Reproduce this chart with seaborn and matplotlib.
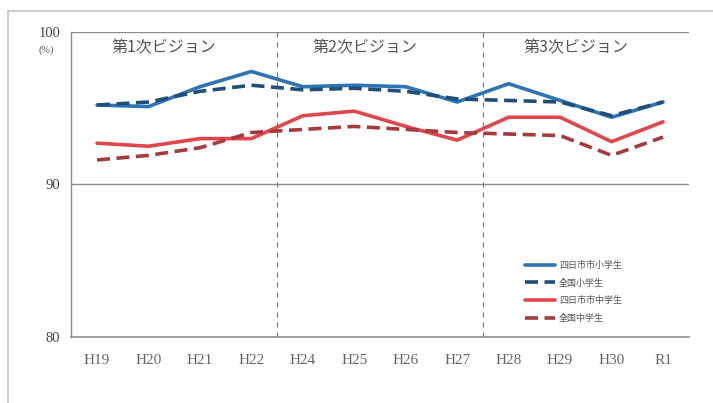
import numpy as np
import pandas as pd
import matplotlib
matplotlib.use("Agg")
import matplotlib.pyplot as plt
from matplotlib.lines import Line2D
import seaborn as sns

sns.set_style("white")
plt.rcParams["font.family"] = ["Noto Sans CJK JP", "DejaVu Sans"]

YEARS = ["H19", "H20", "H21", "H22", "H24", "H25", "H26", "H27", "H28", "H29", "H30", "R1"]
SERIES = ["四日市市小学生", "全国小学生", "四日市市中学生", "全国中学生"]
city_elem  = [95.2, 95.1, 96.4, 97.4, 96.4, 96.5, 96.4, 95.4, 96.6, 95.5, 94.4, 95.4]
nat_elem   = [95.2, 95.4, 96.1, 96.5, 96.2, 96.3, 96.1, 95.6, 95.5, 95.4, 94.5, 95.4]
city_mid   = [92.7, 92.5, 93.0, 93.0, 94.5, 94.8, 93.8, 92.9, 94.4, 94.4, 92.8, 94.1]
nat_mid    = [91.6, 91.9, 92.4, 93.4, 93.6, 93.8, 93.6, 93.4, 93.3, 93.2, 91.9, 93.1]
VISIONS = ["第1次ビジョン", "第2次ビジョン", "第3次ビジョン"]
vision_x = [1.3, 5.2, 9.3]
vision_bounds = [3.5, 7.5]

df = pd.DataFrame({
    "year": YEARS * 4,
    "x": list(range(len(YEARS))) * 4,
    "value": city_elem + nat_elem + city_mid + nat_mid,
    "series": sum([[s] * len(YEARS) for s in SERIES], []),
})

colors = {
    "四日市市小学生": "#2e74b5",
    "全国小学生":     "#1f4e79",
    "四日市市中学生": "#e0474c",
    "全国中学生":     "#a63a3f",
}
dashes = {
    "四日市市小学生": "",
    "全国小学生":     (3.6, 1.8),
    "四日市市中学生": "",
    "全国中学生":     (3.6, 1.8),
}

fig = plt.figure(figsize=(7.13, 4.03), dpi=100)
ax = fig.add_axes([0.1, 0.164, 0.866, 0.757])

# outer frame of the original picture
fig.add_artist(Line2D([0.011, 1.0], [0.972, 0.972], transform=fig.transFigure,
                      color="#cfcfcf", lw=1.5))
fig.add_artist(Line2D([0.011, 0.011], [0.0, 0.972], transform=fig.transFigure,
                      color="#cfcfcf", lw=1.5))

sns.lineplot(data=df, x="x", y="value", hue="series", style="series",
             palette=colors, dashes=dashes, linewidth=2.6, ax=ax, legend=False)

for b in vision_bounds:
    ax.axvline(b, color="#5b7fc8", lw=0.9, ls=(0, (4, 4)), zorder=1)

for yv in [90, 100]:
    ax.axhline(yv, color="#8c8c8c", lw=1.0, zorder=0)

for txt, xv in zip(VISIONS, vision_x):
    ax.text(xv, 98.95, txt, ha="center", va="center", fontsize=11.5, color="#555555")

ax.set_xlim(-0.5, 11.5)
ax.set_ylim(80, 100)
ax.set_xticks(range(len(YEARS)))
ax.set_xticklabels(YEARS, fontsize=11, color="#666666",
                   family=["Liberation Serif"])
ax.set_xticks(np.arange(-0.5, 12, 1), minor=True)
ax.tick_params(axis="x", which="major", length=0, pad=12)
ax.tick_params(axis="x", which="minor", length=4, color="#8c8c8c", direction="in")
ax.set_yticks([80, 90, 100])
ax.set_yticklabels(["80", "90", "100"], fontsize=10.5, color="#444444",
                   family=["Liberation Serif"])
ax.tick_params(axis="y", length=4, color="#8c8c8c", pad=4)
ax.set_xlabel("")
ax.set_ylabel("")
ax.text(-0.04, 0.94, "(%)", transform=ax.transAxes, fontsize=7.5,
        color="#555555", ha="center", va="center", family=["Liberation Serif"])

for side in ["top", "right"]:
    ax.spines[side].set_visible(False)
ax.spines["left"].set_color("#8c8c8c")
ax.spines["bottom"].set_color("#8c8c8c")
ax.spines["left"].set_linewidth(1.0)
ax.spines["bottom"].set_linewidth(1.2)

handles = [Line2D([], [], color=colors[s], lw=2.6,
                  ls="-" if dashes[s] == "" else (0, dashes[s])) for s in SERIES]
ax.legend(handles, SERIES, loc="lower right", bbox_to_anchor=(0.905, 0.02),
          frameon=False, fontsize=6.5, handlelength=3.4, labelspacing=0.95,
          handletextpad=0.4, labelcolor="#555555")

fig.savefig("out.png", dpi=100, facecolor="white")
